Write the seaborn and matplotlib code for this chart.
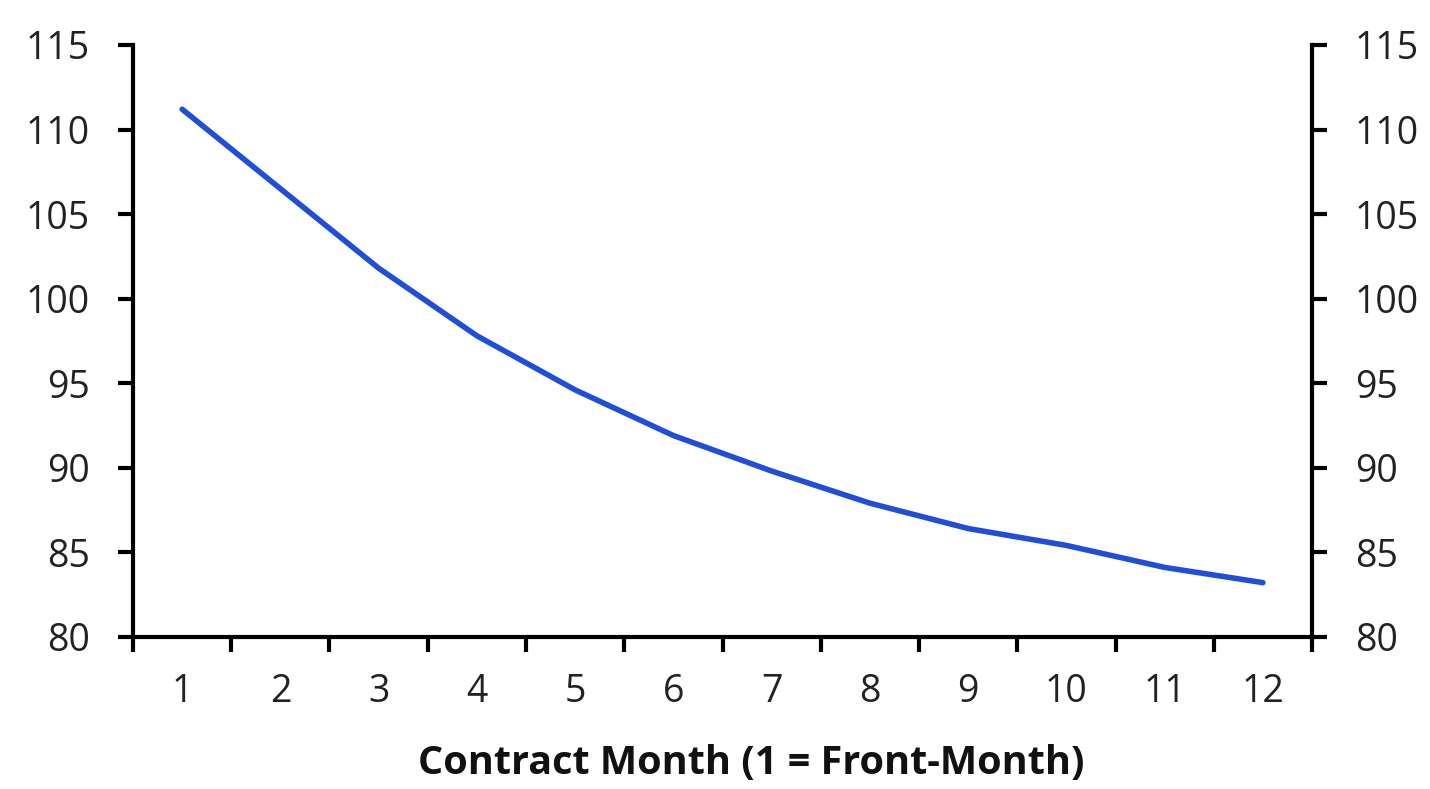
import matplotlib
matplotlib.use("Agg")
import matplotlib.pyplot as plt
import seaborn as sns
import pandas as pd
import numpy as np
from matplotlib.ticker import FixedLocator

months = [1, 2, 3, 4, 5, 6, 7, 8, 9, 10, 11, 12]
prices = [111.2, 106.5, 101.8, 97.8, 94.6, 91.9, 89.8, 87.9, 86.4, 85.4, 84.1, 83.2]
y_ticks = [80, 85, 90, 95, 100, 105, 110, 115]
x_label = "Contract Month (1 = Front-Month)"

sns.set_style("white")
plt.rcParams['font.family'] = ['Open Sans', 'DejaVu Sans']

df = pd.DataFrame({"month": months, "price": prices})

fig = plt.figure(figsize=(14.3, 7.89), dpi=100)
ax = fig.add_axes([0.093, 0.193, 0.8245, 0.750])

sns.lineplot(data=df, x="month", y="price", ax=ax, color="#1f4fd8", linewidth=4.0)

ax.set_xlim(0.5, 12.5)
ax.set_ylim(80, 115)
ax.set_yticks(y_ticks)
ax.set_xticks(months)
ax.set_xticklabels([str(m) for m in months])
ax.xaxis.set_minor_locator(FixedLocator(np.arange(0.5, 12.6, 1.0)))

for s in ["left", "right", "bottom"]:
    ax.spines[s].set_visible(True)
    ax.spines[s].set_linewidth(3)
    ax.spines[s].set_color("black")
ax.spines["top"].set_visible(False)

ax.tick_params(axis="y", which="major", left=True, right=True, labelleft=True, labelright=True,
               direction="out", length=11, width=3, color="black", labelsize=27, labelcolor="#222222", pad=20)
ax.tick_params(axis="x", which="major", bottom=False, length=0, labelsize=27, labelcolor="#222222", pad=26)
ax.tick_params(axis="x", which="minor", bottom=True, direction="out", length=11, width=3, color="black")

ax.set_xlabel(x_label, fontsize=28.5, fontweight="bold", labelpad=24, color="#111111")
ax.xaxis.label.set_x(0.524)
ax.set_ylabel("")
ax.grid(False)

fig.savefig("out.png", dpi=100)
